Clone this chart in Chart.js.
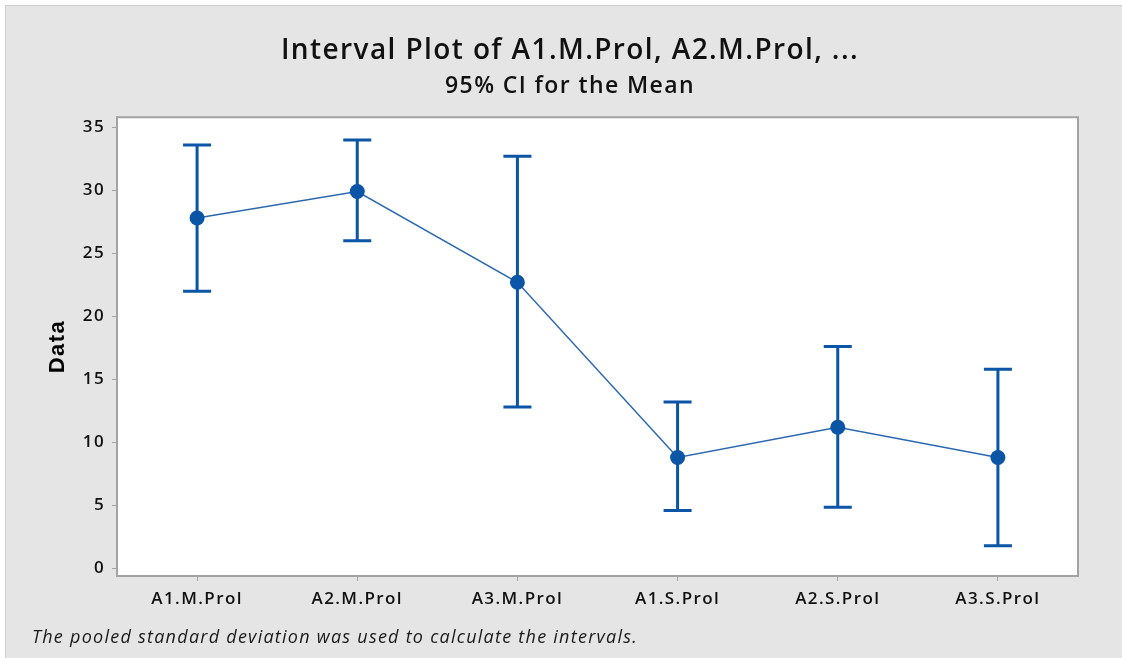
<!DOCTYPE html>
<html>
<head>
<meta charset="utf-8">
<script src="https://cdn.jsdelivr.net/npm/chart.js@4.4.0/dist/chart.umd.min.js"></script>
<style>
  html, body { margin: 0; padding: 0; background: #ffffff; }
  #panel {
    position: absolute; left: 5px; top: 5px; width: 1117px; height: 653px;
    background: #e5e5e5; border-top: 1px solid #cfcfcf; border-left: 1px solid #cfcfcf;
    box-sizing: border-box;
  }
  #chartWrap { position: absolute; left: -1px; top: 0; width: 1117px; height: 652px; }
  #footNote {
    position: absolute; left: 26px; top: 618px; letter-spacing: 1.25px;
    font-family: "Open Sans", sans-serif; font-style: italic; font-size: 18px; color: #1a1a1a;
  }
</style>
</head>
<body>
<div id="panel">
  <div id="chartWrap"><canvas id="chartInterval"></canvas></div>
  <div id="footNote">The pooled standard deviation was used to calculate the intervals.</div>
</div>
<script>
// values
const groups = ['A1.M.Prol', 'A2.M.Prol', 'A3.M.Prol', 'A1.S.Prol', 'A2.S.Prol', 'A3.S.Prol'];
const means = [27.8, 29.9, 22.7, 8.8, 11.2, 8.8];
const upperCI = [33.6, 34.0, 32.7, 13.2, 17.6, 15.8];
const lowerCI = [22.0, 26.0, 12.8, 4.6, 4.85, 1.8];
const yTicks = [0, 5, 10, 15, 20, 25, 30, 35];

const BLUE = '#0a55a5';
const AXIS_GREY = '#a3a3a3';
const FONT = '"Open Sans", sans-serif';

/**
 * Wider text spacing, like the original export
 * (canvas state is reset on resize, so set it before layout and draw)
 */
const spacing = {
  id: 'spacing',
  beforeLayout(chart) { chart.ctx.letterSpacing = '1.4px'; },
  beforeDraw(chart) { chart.ctx.letterSpacing = '1.4px'; }
};

/**
 * White plot area with a grey frame
 */
const plotFrame = {
  id: 'plotFrame',
  beforeDraw(chart) {
    const { ctx, chartArea: a } = chart;
    ctx.save();
    ctx.fillStyle = '#ffffff';
    ctx.fillRect(a.left, a.top, a.right - a.left, a.bottom - a.top);
    ctx.restore();
  },
  afterDraw(chart) {
    const { ctx, chartArea: a } = chart;
    ctx.save();
    ctx.strokeStyle = AXIS_GREY;
    ctx.lineWidth = 2;
    ctx.beginPath();
    ctx.moveTo(a.left, a.top);
    ctx.lineTo(a.right, a.top);
    ctx.lineTo(a.right, a.bottom);
    ctx.stroke();
    ctx.restore();
  }
};

/**
 * Vertical CI bars with caps, placed through the chart scales
 */
const intervalBars = {
  id: 'intervalBars',
  beforeDatasetsDraw(chart) {
    const { ctx, scales: { x, y } } = chart;
    const cap = 14;
    ctx.save();
    ctx.strokeStyle = BLUE;
    ctx.lineWidth = 3;
    groups.forEach((g, i) => {
      const px = x.getPixelForValue(i);
      const top = y.getPixelForValue(upperCI[i]);
      const bot = y.getPixelForValue(lowerCI[i]);
      ctx.beginPath();
      ctx.moveTo(px, top);
      ctx.lineTo(px, bot);
      ctx.moveTo(px - cap, top);
      ctx.lineTo(px + cap, top);
      ctx.moveTo(px - cap, bot);
      ctx.lineTo(px + cap, bot);
      ctx.stroke();
    });
    ctx.restore();
  }
};

const ctx = document.getElementById('chartInterval').getContext('2d');
new Chart(ctx, {
  type: 'line',
  data: {
    labels: groups,
    datasets: [{
      label: 'Mean',
      data: means,
      borderColor: '#2a68b2',
      borderWidth: 1.5,
      backgroundColor: BLUE,
      pointBackgroundColor: BLUE,
      pointBorderColor: BLUE,
      pointRadius: 7.5,
      pointBorderWidth: 0,
      tension: 0
    }]
  },
  options: {
    responsive: true,
    maintainAspectRatio: false,
    animation: false,
    // left padding keeps the title centred like the original
    layout: { padding: { left: 57, right: 44, top: 0, bottom: 42 } },
    plugins: {
      legend: { display: false },
      tooltip: { enabled: false },
      title: {
        display: true,
        text: 'Interval Plot of A1.M.Prol, A2.M.Prol, ...',
        color: '#111111',
        font: { family: FONT, size: 28, weight: '600' },
        padding: { top: 28, bottom: 4 }
      },
      subtitle: {
        display: true,
        text: '95% CI for the Mean',
        color: '#111111',
        font: { family: FONT, size: 23, weight: '600' },
        padding: { top: 1, bottom: 17 }
      }
    },
    scales: {
      x: {
        type: 'category',
        offset: true,
        afterFit: (s) => { s.height = 40; },
        grid: { drawOnChartArea: false, drawTicks: true, tickLength: 5, color: AXIS_GREY, offset: false },
        border: { display: true, color: AXIS_GREY, width: 2 },
        ticks: { color: '#111111', padding: 8, font: { family: FONT, size: 17, weight: '600' } }
      },
      y: {
        min: -0.6,
        max: 35.8,
        afterFit: (s) => { s.width = 55; },
        afterBuildTicks: (s) => { s.ticks = yTicks.map(v => ({ value: v })); },
        grid: { drawOnChartArea: false, drawTicks: true, tickLength: 5, color: AXIS_GREY },
        border: { display: true, color: AXIS_GREY, width: 2 },
        ticks: { color: '#111111', padding: 7, font: { family: FONT, size: 17, weight: '600' } },
        title: {
          display: true,
          text: 'Data',
          color: '#000000',
          font: { family: 'Liberation Sans', size: 22, weight: 'bold' },
          padding: { top: -17, bottom: 0 }
        }
      }
    }
  },
  plugins: [spacing, plotFrame, intervalBars]
});
</script>
</body>
</html>
